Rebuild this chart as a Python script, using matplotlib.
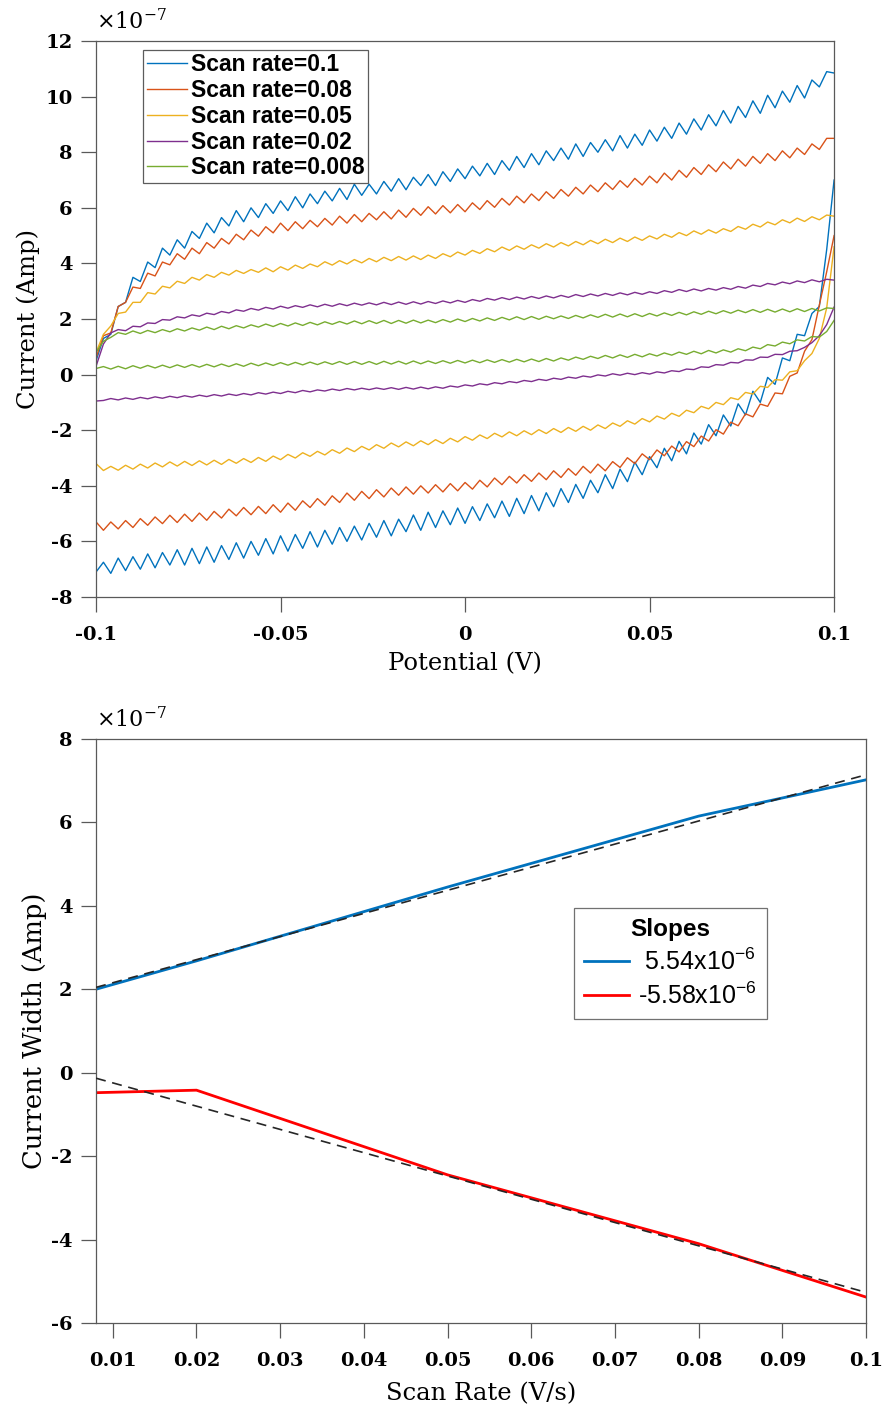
import numpy as np
import matplotlib
matplotlib.use("Agg")
import matplotlib.pyplot as plt

plt.rcParams["font.family"] = "DejaVu Serif"
plt.rcParams["axes.unicode_minus"] = False
plt.rcParams["mathtext.fontset"] = "dejavuserif"

# ---- cyclic voltammograms: currents in units of 1e-7 A on a 0.002 V grid ----
# each list runs from -0.1 V to +0.1 V (101 samples)
POTENTIAL = np.linspace(-0.1, 0.1, 101)
SCAN_RATES_CV = [0.1, 0.08, 0.05, 0.02, 0.008]
CV_COLORS = ["#0072BD", "#D95319", "#EDB120", "#7E2F8E", "#77AC30"]

FWD_100 = [0.50, 1.30, 1.45, 2.45, 2.60, 3.50, 3.35, 4.05, 3.85, 4.55,
           4.30, 4.85, 4.55, 5.15, 4.90, 5.45, 5.10, 5.65, 5.35, 5.90,
           5.50, 6.00, 5.65, 6.15, 5.80, 6.25, 5.90, 6.40, 6.00, 6.50,
           6.15, 6.60, 6.25, 6.70, 6.30, 6.85, 6.45, 6.85, 6.50, 6.95,
           6.60, 7.05, 6.65, 7.10, 6.80, 7.20, 6.80, 7.30, 6.95, 7.40,
           7.05, 7.50, 7.15, 7.60, 7.20, 7.70, 7.35, 7.85, 7.45, 7.95,
           7.55, 8.05, 7.70, 8.15, 7.75, 8.30, 7.85, 8.35, 8.00, 8.45,
           8.05, 8.60, 8.15, 8.65, 8.25, 8.80, 8.40, 8.90, 8.50, 9.05,
           8.65, 9.20, 8.80, 9.35, 8.95, 9.50, 9.05, 9.65, 9.25, 9.85,
           9.40, 10.05, 9.60, 10.20, 9.80, 10.40, 9.95, 10.60, 10.35, 10.90,
           10.85]
REV_100 = [-7.10, -6.75, -7.15, -6.60, -7.05, -6.55, -7.00, -6.45, -6.95, -6.40,
           -6.85, -6.30, -6.85, -6.25, -6.80, -6.20, -6.75, -6.15, -6.65, -6.05,
           -6.60, -6.00, -6.50, -5.90, -6.45, -5.80, -6.35, -5.75, -6.25, -5.65,
           -6.20, -5.60, -6.10, -5.50, -6.00, -5.45, -5.95, -5.35, -5.85, -5.25,
           -5.80, -5.20, -5.65, -5.05, -5.60, -4.95, -5.50, -4.90, -5.40, -4.80,
           -5.35, -4.75, -5.25, -4.65, -5.15, -4.55, -5.10, -4.45, -5.00, -4.35,
           -4.90, -4.25, -4.75, -4.10, -4.60, -3.95, -4.45, -3.80, -4.25, -3.60,
           -4.10, -3.40, -3.85, -3.15, -3.60, -2.95, -3.35, -2.65, -3.10, -2.40,
           -2.85, -2.10, -2.50, -1.80, -2.20, -1.45, -1.85, -1.05, -1.45, -0.60,
           -1.00, -0.10, -0.35, 0.60, 0.50, 1.45, 1.40, 2.20, 2.45, 4.50,
           7.00]

FWD_080 = [0.60, 1.40, 1.50, 2.45, 2.60, 3.15, 3.10, 3.65, 3.55, 4.05,
           3.95, 4.35, 4.15, 4.55, 4.35, 4.75, 4.55, 4.90, 4.70, 5.05,
           4.85, 5.20, 4.98, 5.32, 5.10, 5.45, 5.18, 5.50, 5.25, 5.55,
           5.32, 5.62, 5.38, 5.70, 5.45, 5.76, 5.50, 5.80, 5.57, 5.86,
           5.60, 5.92, 5.66, 5.98, 5.73, 6.04, 5.78, 6.08, 5.82, 6.12,
           5.86, 6.18, 5.94, 6.26, 6.02, 6.34, 6.10, 6.42, 6.18, 6.50,
           6.26, 6.58, 6.34, 6.66, 6.42, 6.74, 6.50, 6.82, 6.58, 6.90,
           6.66, 6.98, 6.74, 7.06, 6.82, 7.14, 6.90, 7.25, 7.00, 7.35,
           7.10, 7.45, 7.20, 7.55, 7.30, 7.65, 7.40, 7.75, 7.50, 7.85,
           7.60, 7.95, 7.70, 8.05, 7.80, 8.15, 7.92, 8.30, 8.10, 8.50,
           8.50]
REV_080 = [-5.30, -5.60, -5.30, -5.55, -5.25, -5.50, -5.18, -5.42, -5.12, -5.36,
           -5.06, -5.32, -5.02, -5.28, -4.98, -5.24, -4.92, -5.16, -4.84, -5.08,
           -4.78, -5.04, -4.74, -5.00, -4.68, -4.95, -4.62, -4.88, -4.54, -4.78,
           -4.46, -4.70, -4.36, -4.60, -4.26, -4.52, -4.20, -4.46, -4.14, -4.40,
           -4.08, -4.34, -4.04, -4.30, -4.00, -4.26, -3.96, -4.22, -3.92, -4.18,
           -3.88, -4.12, -3.80, -4.04, -3.72, -3.96, -3.66, -3.90, -3.60, -3.84,
           -3.54, -3.78, -3.46, -3.70, -3.38, -3.62, -3.30, -3.54, -3.22, -3.46,
           -3.13, -3.34, -2.99, -3.20, -2.85, -3.06, -2.71, -2.92, -2.57, -2.78,
           -2.41, -2.59, -2.21, -2.39, -1.98, -2.14, -1.71, -1.84, -1.41, -1.52,
           -1.06, -1.14, -0.66, -0.69, -0.06, 0.06, 0.84, 1.26, 2.50, 3.70,
           5.00]

FWD_050 = [0.80, 1.45, 1.75, 2.20, 2.25, 2.60, 2.60, 2.95, 2.90, 3.18,
           3.12, 3.36, 3.28, 3.50, 3.40, 3.60, 3.50, 3.68, 3.58, 3.75,
           3.64, 3.78, 3.68, 3.84, 3.70, 3.88, 3.76, 3.94, 3.82, 3.98,
           3.88, 4.06, 3.94, 4.10, 3.98, 4.14, 4.02, 4.18, 4.06, 4.22,
           4.10, 4.25, 4.12, 4.27, 4.14, 4.30, 4.18, 4.35, 4.24, 4.41,
           4.30, 4.47, 4.36, 4.53, 4.42, 4.59, 4.47, 4.63, 4.51, 4.67,
           4.55, 4.71, 4.59, 4.75, 4.63, 4.79, 4.67, 4.83, 4.71, 4.87,
           4.75, 4.91, 4.79, 4.95, 4.83, 4.99, 4.88, 5.05, 4.94, 5.11,
           5.00, 5.17, 5.05, 5.21, 5.09, 5.25, 5.15, 5.33, 5.23, 5.41,
           5.31, 5.49, 5.39, 5.57, 5.46, 5.63, 5.51, 5.68, 5.57, 5.74,
           5.70]
REV_050 = [-3.20, -3.45, -3.30, -3.44, -3.26, -3.40, -3.22, -3.36, -3.18, -3.32,
           -3.14, -3.29, -3.12, -3.27, -3.10, -3.25, -3.08, -3.23, -3.05, -3.19,
           -3.02, -3.16, -2.98, -3.12, -2.93, -3.06, -2.87, -3.00, -2.81, -2.94,
           -2.76, -2.89, -2.70, -2.83, -2.64, -2.77, -2.58, -2.71, -2.52, -2.65,
           -2.46, -2.60, -2.42, -2.56, -2.38, -2.52, -2.34, -2.48, -2.29, -2.42,
           -2.23, -2.36, -2.17, -2.30, -2.11, -2.24, -2.06, -2.20, -2.02, -2.16,
           -1.98, -2.12, -1.94, -2.08, -1.90, -2.04, -1.86, -2.00, -1.81, -1.94,
           -1.74, -1.86, -1.66, -1.78, -1.58, -1.70, -1.49, -1.60, -1.39, -1.50,
           -1.28, -1.37, -1.14, -1.23, -1.00, -1.08, -0.83, -0.90, -0.64, -0.70,
           -0.42, -0.46, -0.18, -0.20, 0.10, 0.14, 0.50, 0.76, 1.30, 2.40,
           4.60]

FWD_020 = [0.30, 1.10, 1.50, 1.62, 1.58, 1.74, 1.72, 1.86, 1.84, 1.98,
           1.96, 2.08, 2.04, 2.15, 2.10, 2.21, 2.16, 2.27, 2.22, 2.33,
           2.28, 2.38, 2.32, 2.42, 2.36, 2.46, 2.39, 2.48, 2.42, 2.51,
           2.44, 2.53, 2.46, 2.55, 2.48, 2.57, 2.50, 2.58, 2.51, 2.60,
           2.52, 2.61, 2.53, 2.62, 2.54, 2.63, 2.56, 2.65, 2.58, 2.67,
           2.60, 2.70, 2.64, 2.74, 2.68, 2.77, 2.70, 2.79, 2.72, 2.81,
           2.74, 2.83, 2.76, 2.85, 2.78, 2.88, 2.81, 2.90, 2.83, 2.92,
           2.85, 2.94, 2.87, 2.96, 2.89, 2.98, 2.92, 3.02, 2.96, 3.06,
           2.99, 3.08, 3.01, 3.10, 3.04, 3.13, 3.07, 3.17, 3.11, 3.22,
           3.17, 3.28, 3.23, 3.33, 3.27, 3.37, 3.31, 3.41, 3.34, 3.43,
           3.40]
REV_020 = [-0.95, -0.93, -0.86, -0.91, -0.84, -0.89, -0.82, -0.87, -0.80, -0.85,
           -0.78, -0.83, -0.76, -0.81, -0.74, -0.79, -0.72, -0.77, -0.70, -0.75,
           -0.68, -0.73, -0.65, -0.70, -0.63, -0.68, -0.60, -0.65, -0.57, -0.62,
           -0.55, -0.59, -0.52, -0.57, -0.50, -0.55, -0.49, -0.54, -0.48, -0.53,
           -0.47, -0.53, -0.46, -0.52, -0.45, -0.51, -0.44, -0.49, -0.41, -0.45,
           -0.37, -0.41, -0.33, -0.37, -0.29, -0.33, -0.25, -0.29, -0.21, -0.25,
           -0.17, -0.21, -0.13, -0.17, -0.09, -0.13, -0.05, -0.09, -0.01, -0.05,
           0.03, -0.02, 0.05, 0.00, 0.07, 0.02, 0.10, 0.06, 0.14, 0.11,
           0.20, 0.18, 0.28, 0.26, 0.36, 0.34, 0.44, 0.42, 0.53, 0.52,
           0.63, 0.62, 0.73, 0.72, 0.84, 0.86, 0.98, 1.15, 1.40, 1.80,
           2.43]

FWD_008 = [0.80, 1.20, 1.34, 1.51, 1.45, 1.57, 1.48, 1.59, 1.51, 1.62,
           1.54, 1.65, 1.57, 1.68, 1.60, 1.71, 1.62, 1.74, 1.65, 1.76,
           1.68, 1.79, 1.71, 1.82, 1.73, 1.84, 1.75, 1.86, 1.77, 1.88,
           1.79, 1.90, 1.81, 1.91, 1.82, 1.93, 1.83, 1.94, 1.84, 1.95,
           1.84, 1.95, 1.85, 1.96, 1.86, 1.96, 1.87, 1.98, 1.89, 2.00,
           1.91, 2.02, 1.93, 2.04, 1.95, 2.06, 1.97, 2.08, 1.98, 2.09,
           1.99, 2.10, 2.01, 2.11, 2.02, 2.13, 2.04, 2.15, 2.06, 2.17,
           2.07, 2.18, 2.08, 2.19, 2.09, 2.20, 2.11, 2.22, 2.13, 2.24,
           2.15, 2.26, 2.17, 2.28, 2.19, 2.30, 2.21, 2.32, 2.23, 2.34,
           2.24, 2.35, 2.25, 2.36, 2.26, 2.37, 2.27, 2.38, 2.29, 2.40,
           2.38]
REV_008 = [0.22, 0.29, 0.20, 0.30, 0.21, 0.32, 0.23, 0.33, 0.24, 0.34,
           0.25, 0.35, 0.26, 0.36, 0.27, 0.37, 0.28, 0.38, 0.29, 0.39,
           0.30, 0.41, 0.32, 0.42, 0.33, 0.43, 0.34, 0.44, 0.35, 0.45,
           0.36, 0.46, 0.37, 0.47, 0.37, 0.47, 0.37, 0.47, 0.37, 0.48,
           0.38, 0.48, 0.38, 0.49, 0.39, 0.49, 0.40, 0.50, 0.41, 0.51,
           0.42, 0.52, 0.43, 0.53, 0.44, 0.54, 0.45, 0.55, 0.46, 0.56,
           0.47, 0.58, 0.49, 0.60, 0.52, 0.63, 0.55, 0.66, 0.58, 0.69,
           0.60, 0.71, 0.62, 0.73, 0.64, 0.75, 0.67, 0.78, 0.70, 0.81,
           0.73, 0.84, 0.75, 0.87, 0.78, 0.89, 0.81, 0.93, 0.86, 0.99,
           0.93, 1.08, 1.03, 1.17, 1.11, 1.25, 1.21, 1.37, 1.35, 1.55,
           1.95]

FORWARD = [FWD_100, FWD_080, FWD_050, FWD_020, FWD_008]
REVERSE = [REV_100, REV_080, REV_050, REV_020, REV_008]
CV_XTICKS = [-0.1, -0.05, 0, 0.05, 0.1]
CV_XTICK_LABELS = ["-0.1", "-0.05", "0", "0.05", "0.1"]
CV_YTICKS = [-8, -6, -4, -2, 0, 2, 4, 6, 8, 10, 12]

# ---- current width vs scan rate (units of 1e-7 A) ----
SCAN_RATES = [0.008, 0.02, 0.05, 0.08, 0.1]
WIDTH_POS = [2.00, 2.68, 4.45, 6.15, 7.02]
WIDTH_NEG = [-0.48, -0.42, -2.45, -4.10, -5.38]
SLOPES = [5.54e-6, -5.58e-6]
WIDTH_COLORS = ["#0072BD", "#FF0000"]
SR_XTICKS = [0.01, 0.02, 0.03, 0.04, 0.05, 0.06, 0.07, 0.08, 0.09, 0.1]
SR_XTICK_LABELS = ["0.01", "0.02", "0.03", "0.04", "0.05",
                   "0.06", "0.07", "0.08", "0.09", "0.1"]
SR_YTICKS = [-6, -4, -2, 0, 2, 4, 6, 8]

SPINE = "0.35"
SCALE = 1e-7


def style_axes(ax, yticks):
    # y ticks are given in units of 1e-7 A, the multiplier sits above the axis
    ax.set_yticks(np.array(yticks) * SCALE, labels=[f"{v:g}" for v in yticks])
    for sp in ax.spines.values():
        sp.set_color(SPINE)
        sp.set_linewidth(0.9)
    ax.tick_params(direction="out", length=11, width=0.9, color=SPINE,
                   top=False, right=False, labelsize=14, pad=6)
    ax.tick_params(axis="x", pad=10)
    for lab in ax.get_xticklabels() + ax.get_yticklabels():
        lab.set_fontweight("bold")
    ax.text(0.0, 1.012, r"$\times10^{-7}$", transform=ax.transAxes,
            fontsize=16, ha="left", va="bottom")


fig = plt.figure(figsize=(8.86, 14.11), dpi=100)

# top: voltammograms
ax1 = fig.add_axes([0.1084, 0.5769, 0.8330, 0.3940])
for rate, fwd, rev, col in zip(SCAN_RATES_CV, FORWARD, REVERSE, CV_COLORS):
    x = np.concatenate((POTENTIAL[::-1], POTENTIAL))
    y = np.concatenate((np.array(rev)[::-1], np.array(fwd))) * SCALE
    ax1.plot(x, y, color=col, lw=1.0, label=f"Scan rate={rate:g}")
ax1.set_xlim(-0.1, 0.1)
ax1.set_ylim(-8 * SCALE, 12 * SCALE)
ax1.set_xticks(CV_XTICKS, labels=CV_XTICK_LABELS)
style_axes(ax1, CV_YTICKS)
ax1.set_xlabel("Potential (V)", fontsize=17.5, labelpad=6)
ax1.set_ylabel("Current (Amp)", fontsize=17.5, labelpad=4)
leg1 = ax1.legend(loc="upper left", bbox_to_anchor=(0.064, 0.984),
                  prop=dict(family="Liberation Sans", weight="bold", size=16.5),
                  frameon=True, fancybox=False, edgecolor="0.2",
                  handlelength=1.75, handletextpad=0.2, borderpad=0.15,
                  labelspacing=0.12, borderaxespad=0)
leg1.get_frame().set_linewidth(0.9)

# bottom: peak current width against scan rate with linear fits
ax2 = fig.add_axes([0.1084, 0.0624, 0.8691, 0.4139])
sr = np.array(SCAN_RATES)
handles = []
for vals, slope, col in zip([WIDTH_POS, WIDTH_NEG], SLOPES, WIDTH_COLORS):
    yv = np.array(vals) * SCALE
    intercept = yv.mean() - slope * sr.mean()
    label = f"{slope * 1e6:5.2f}x10" + r"$\mathdefault{^{-6}}$"
    h, = ax2.plot(sr, yv, color=col, lw=2.0, label=label)
    handles.append(h)
    xf = np.array([sr[0], sr[-1]])
    ax2.plot(xf, intercept + slope * xf, color="0.15", lw=1.2,
             ls=(0, (6, 4)), zorder=3)
ax2.set_xlim(0.008, 0.1)
ax2.set_ylim(-6 * SCALE, 8 * SCALE)
ax2.set_xticks(SR_XTICKS, labels=SR_XTICK_LABELS)
style_axes(ax2, SR_YTICKS)
ax2.set_xlabel("Scan Rate (V/s)", fontsize=17.5, labelpad=9)
ax2.set_ylabel("Current Width (Amp)", fontsize=18.5, labelpad=3)
leg2 = ax2.legend(handles=handles, loc="upper left",
                  bbox_to_anchor=(0.621, 0.711), title="Slopes",
                  prop=dict(family="Liberation Sans", size=18),
                  title_fontproperties=dict(family="Liberation Sans",
                                            weight="bold", size=17.5),
                  frameon=True, fancybox=False, edgecolor="0.3",
                  handlelength=1.8, handletextpad=0.35, borderpad=0.4,
                  labelspacing=0.3, borderaxespad=0)
leg2.get_frame().set_linewidth(0.9)

fig.savefig("out.png", dpi=100)
